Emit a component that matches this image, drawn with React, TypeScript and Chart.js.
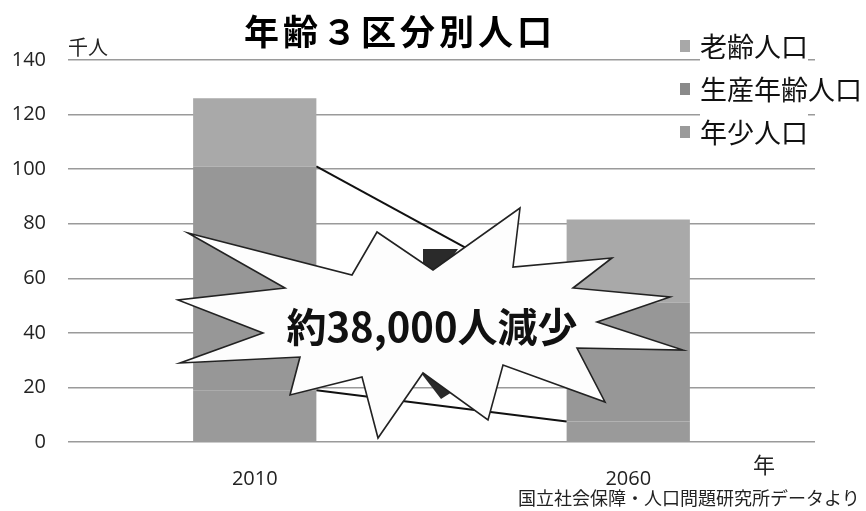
import React, { useEffect, useRef } from "react";
import { Chart, registerables } from "chart.js";

Chart.register(...registerables);

const years = ["2010", "2060"];
const youngPop = [19, 7.5];
const workingPop = [82, 43.5];
const elderlyPop = [25, 30.5];
const seriesNames = ["年少人口", "生産年齢人口", "老齢人口"];
const seriesColors = ["#9a9a9a", "#979797", "#a9a9a9"];
const legendColors = ["#9a9a9a", "#8a8a8a", "#a8a8a8"];
const yMax = 140;
const yStep = 20;
const titleText = "年齢３区分別人口";
const calloutText = "約38,000人減少";
const unitY = "千人";
const unitX = "年";
const sourceText = "国立社会保障・人口問題研究所データより";

// Decorative starburst outline (canvas pixel coords)
const STAR: [number, number][] = [
  [188, 233], [352, 275], [377, 232], [433, 270], [520, 208], [513, 267],
  [612, 258], [573, 288], [670, 297], [597, 322], [683, 350], [577, 348],
  [605, 402], [503, 365], [488, 420], [423, 373], [378, 438], [362, 377],
  [290, 395], [300, 357], [180, 363], [263, 333], [178, 300], [285, 288],
];
const ARROW_A: [number, number][] = [[423, 249], [458, 249], [440, 275], [423, 268]];
const ARROW_B: [number, number][] = [[421, 373], [434, 367], [452, 392], [441, 399]];

const jp = '"Noto Sans CJK JP", "Noto Sans", sans-serif';

const decorPlugin = {
  id: "decor",
  afterDatasetsDraw(chart: any) {
    const ctx = chart.ctx as CanvasRenderingContext2D;
    ctx.save();
    [0, 1].forEach((di) => {
      const meta = chart.getDatasetMeta(di);
      const a = meta.data[0];
      const b = meta.data[1];
      ctx.beginPath();
      ctx.moveTo(a.x + a.width / 2, a.y);
      ctx.lineTo(b.x - b.width / 2, b.y);
      ctx.strokeStyle = "#111";
      ctx.lineWidth = 2;
      ctx.stroke();
    });
    [ARROW_A, ARROW_B].forEach((poly) => {
      ctx.beginPath();
      poly.forEach(([x, y], i) => (i ? ctx.lineTo(x, y) : ctx.moveTo(x, y)));
      ctx.closePath();
      ctx.fillStyle = "#2a2a2a";
      ctx.fill();
    });
    ctx.beginPath();
    STAR.forEach(([x, y], i) => (i ? ctx.lineTo(x, y) : ctx.moveTo(x, y)));
    ctx.closePath();
    ctx.fillStyle = "#fdfdfd";
    ctx.fill();
    ctx.strokeStyle = "#222";
    ctx.lineWidth = 1.6;
    ctx.lineJoin = "miter";
    ctx.stroke();
    ctx.fillStyle = "#111";
    ctx.font = `bold 40px ${jp}`;
    ctx.textAlign = "center";
    ctx.textBaseline = "middle";
    ctx.fillText(calloutText, 432, 327);
    ctx.restore();
  },
};

export default function App() {
  const ref = useRef<HTMLCanvasElement>(null);
  useEffect(() => {
    document.body.style.margin = "0";
    const chart = new Chart(ref.current as HTMLCanvasElement, {
      type: "bar",
      data: {
        labels: years,
        datasets: [
          { label: seriesNames[0], data: youngPop, backgroundColor: seriesColors[0] },
          { label: seriesNames[1], data: workingPop, backgroundColor: seriesColors[1] },
          { label: seriesNames[2], data: elderlyPop, backgroundColor: seriesColors[2] },
        ],
      },
      options: {
        responsive: false,
        animation: false,
        layout: { padding: { left: 0, top: 60, right: 51, bottom: 0 } },
        datasets: { bar: { categoryPercentage: 1, barPercentage: 0.33 } } as any,
        plugins: { legend: { display: false }, tooltip: { enabled: false }, title: { display: false } },
        scales: {
          x: {
            stacked: true,
            grid: { display: false },
            border: { display: false },
            ticks: { color: "#222", font: { family: '"Open Sans", sans-serif', size: 20 }, padding: 17 },
            afterFit: (s: any) => { s.height = 69; },
          },
          y: {
            stacked: true,
            min: 0,
            max: yMax,
            ticks: { stepSize: yStep, color: "#222", font: { family: '"Open Sans", sans-serif', size: 20 }, padding: 22 },
            grid: { color: "#9a9a9a", lineWidth: 1.5, drawTicks: false },
            border: { display: false },
            afterFit: (s: any) => { s.width = 68; },
          },
        },
      },
      plugins: [decorPlugin],
    });
    return () => chart.destroy();
  }, []);

  const legendItems = [2, 1, 0];
  return (
    <div style={{ position: "fixed", left: 0, top: 0, width: 866, height: 511, background: "#fff", fontFamily: jp }}>
      <canvas ref={ref} width={866} height={511} style={{ position: "absolute", left: 0, top: 0 }} />
      <div style={{ position: "absolute", left: 0, width: 800, top: 8, textAlign: "center", fontSize: 35, fontWeight: 700, letterSpacing: 4, lineHeight: "44px", color: "#000" }}>{titleText}</div>
      <div style={{ position: "absolute", left: 68, top: 34, fontSize: 20, lineHeight: "26px", color: "#222" }}>{unitY}</div>
      {legendItems.map((si, k) => (
        <div key={si} style={{ position: "absolute", left: 680, top: 28 + k * 43, height: 36, display: "flex", alignItems: "center" }}>
          <div style={{ width: 10, height: 12, background: legendColors[si], marginRight: 10 }} />
          <div style={{ fontSize: 27, lineHeight: "36px", color: "#111", background: "#fff" }}>{seriesNames[si]}</div>
        </div>
      ))}
      <div style={{ position: "absolute", left: 753, top: 449, fontSize: 22, lineHeight: "28px", color: "#222" }}>{unitX}</div>
      <div style={{ position: "absolute", left: 518, top: 486, fontSize: 18, lineHeight: "22px", color: "#222" }}>{sourceText}</div>
    </div>
  );
}
